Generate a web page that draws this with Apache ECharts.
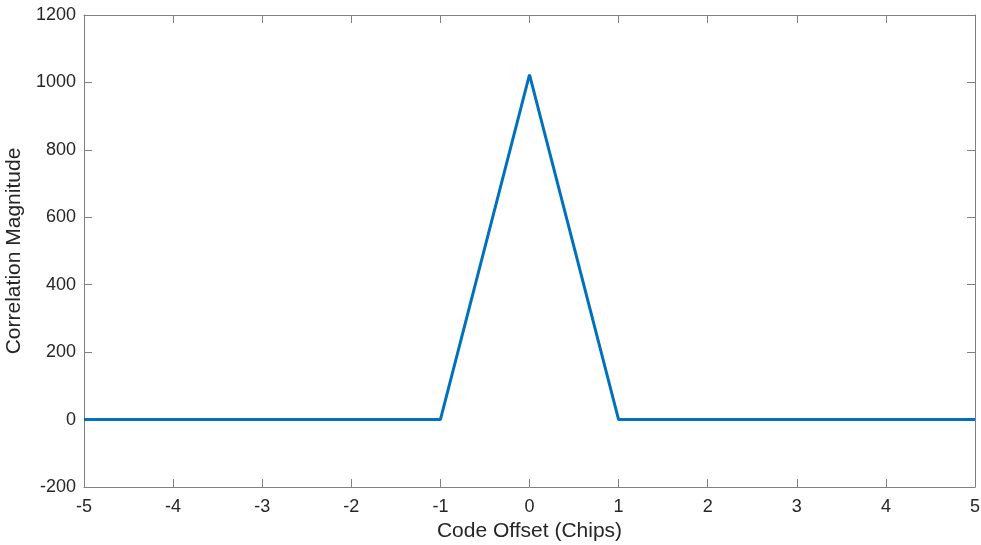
<!DOCTYPE html>
<html><head><meta charset="utf-8">
<script src="https://cdn.jsdelivr.net/npm/echarts@6/dist/echarts.min.js"></script>
<style>html,body{margin:0;padding:0;background:#fff}#c{width:981px;height:545px}</style>
</head><body><div id="c"></div>
<script>
const codeOffset = [-5, -1, 0, 1, 5];
const correlation = [0, 0, 1023, 0, 0];
const xTicks = [-5, -4, -3, -2, -1, 0, 1, 2, 3, 4, 5];
const yTicks = [-200, 0, 200, 400, 600, 800, 1000, 1200];

const chart = echarts.init(document.getElementById('c'));
const font = '"Liberation Sans", Arial, Helvetica, sans-serif';
const axisCol = '#808080';
const txt = '#262626';
const baseAxis = () => ({
  axisLine: {show: true, onZero: false, lineStyle: {color: axisCol, width: 1}},
  axisTick: {show: true, inside: true, length: 8, lineStyle: {color: axisCol}},
  splitLine: {show: false},
});
const fmt = v => String(v);
chart.setOption({
  animation: false,
  grid: {left: 84, right: 6, top: 15, bottom: 58, containLabel: false, outerBoundsMode: 'none'},
  xAxis: [
    Object.assign(baseAxis(), {
      type: 'value', min: xTicks[0], max: xTicks[xTicks.length-1], interval: 1, position: 'bottom',
      name: 'Code Offset (Chips)', nameLocation: 'middle', nameGap: 32,
      nameTextStyle: {fontFamily: font, fontSize: 21, color: txt},
      axisLabel: {fontFamily: font, fontSize: 18, color: txt, margin: 11, formatter: fmt}
    }),
    Object.assign(baseAxis(), {
      type: 'value', min: xTicks[0], max: xTicks[xTicks.length-1], interval: 1, position: 'top',
      axisLabel: {show: false}
    })
  ],
  yAxis: [
    Object.assign(baseAxis(), {
      type: 'value', min: yTicks[0], max: yTicks[yTicks.length-1], interval: 200, position: 'left',
      name: 'Correlation Magnitude', nameLocation: 'middle', nameGap: 52, nameRotate: 90,
      nameTextStyle: {fontFamily: font, fontSize: 21, color: txt},
      axisLabel: {fontFamily: font, fontSize: 18, color: txt, margin: 8, formatter: fmt}
    }),
    Object.assign(baseAxis(), {
      type: 'value', min: yTicks[0], max: yTicks[yTicks.length-1], interval: 200, position: 'right',
      axisLabel: {show: false}
    })
  ],
  series: [{
    type: 'line',
    data: codeOffset.map((x, i) => [x, correlation[i]]),
    showSymbol: false,
    lineStyle: {color: '#0072BD', width: 3},
    itemStyle: {color: '#0072BD'}
  }]
});
</script></body></html>
